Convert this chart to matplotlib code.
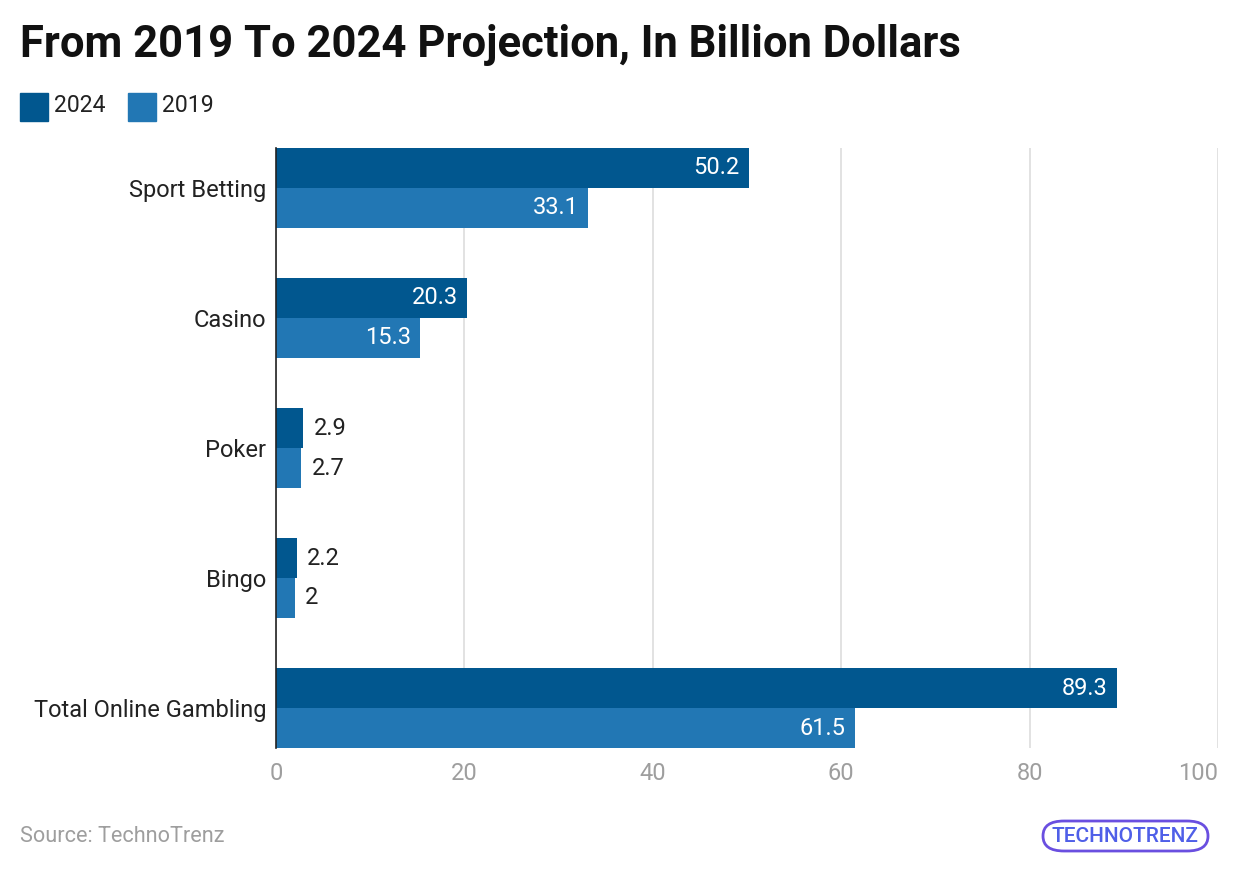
import numpy as np
import matplotlib.pyplot as plt
from matplotlib.patches import FancyBboxPatch

plt.rcParams['font.family'] = ['Roboto', 'DejaVu Sans']

categories = ["Sport Betting", "Casino", "Poker", "Bingo", "Total Online Gambling"]
values_2024 = [50.2, 20.3, 2.9, 2.2, 89.3]
values_2019 = [33.1, 15.3, 2.7, 2.0, 61.5]
labels_2024 = ["50.2", "20.3", "2.9", "2.2", "89.3"]
labels_2019 = ["33.1", "15.3", "2.7", "2", "61.5"]
xticks = [0, 20, 40, 60, 80, 100]

c2024 = "#01578f"
c2019 = "#2277b4"

fig = plt.figure(figsize=(12.4, 8.72), dpi=100)
ax = fig.add_axes([276/1240, 1-748/872, 942/1240, 600/872])

y = np.arange(len(categories))
h = 40/130
ax.barh(y - h/2, values_2024, height=h, color=c2024, zorder=3)
ax.barh(y + h/2, values_2019, height=h, color=c2019, zorder=3)

def put_labels(vals, labs, ys):
    for v, lab, yy in zip(vals, labs, ys):
        if v > 10:
            ax.text(v - 1.0, yy, lab, ha='right', va='center', color='white',
                    fontsize=17, zorder=4)
        else:
            ax.text(v + 1.1, yy, lab, ha='left', va='center', color='#222222',
                    fontsize=17, zorder=4)

put_labels(values_2024, labels_2024, y - h/2)
put_labels(values_2019, labels_2019, y + h/2)

ax.set_xlim(0, 100)
ax.set_ylim(len(categories) - 1 + h, -h)
ax.set_xticks(xticks)
ax.set_xticklabels([str(t) for t in xticks], color='#9e9e9e', fontsize=17)
ax.get_xticklabels()[-1].set_ha('right')
ax.set_yticks(y)
ax.set_yticklabels(categories, fontsize=17, color='#222222')
ax.tick_params(length=0, pad=10)
ax.tick_params(axis='y', pad=7)
ax.grid(axis='x', color='#dddddd', linewidth=1.2, zorder=0)
for s in ['top', 'right', 'bottom']:
    ax.spines[s].set_visible(False)
ax.spines['left'].set_color('#222222')
ax.spines['left'].set_linewidth(1.2)
ax.spines['left'].set_zorder(5)

fig.text(20/1240, 1-45/872, "From 2019 To 2024 Projection, In Billion Dollars",
         fontsize=31.4, fontweight='bold', color='#111111', va='center', ha='left')

# legend
fig.patches.append(plt.Rectangle((20/1240, 1-121/872), 28/1240, 28/872,
                                 transform=fig.transFigure, color=c2024))
fig.text(54/1240, 1-106/872, "2024", fontsize=16.6, color='#222222', va='center')
fig.patches.append(plt.Rectangle((128/1240, 1-121/872), 28/1240, 28/872,
                                 transform=fig.transFigure, color=c2019))
fig.text(162/1240, 1-106/872, "2019", fontsize=16.6, color='#222222', va='center')

fig.text(20/1240, 1-836/872, "Source: TechnoTrenz", fontsize=15.6, color='#9e9e9e', va='center')

# logo
logo = FancyBboxPatch((1043/1240, 1-851/872), 165/1240, 30/872,
                      boxstyle="round,pad=0,rounding_size=0.017",
                      transform=fig.transFigure, fill=False,
                      edgecolor='#6a4fe0', linewidth=2)
fig.patches.append(logo)
fig.text(1125/1240, 1-836/872, "TECHNOTRENZ", fontsize=15, color='#4f5fe8',
         ha='center', va='center', fontweight='medium')

fig.savefig("out.png", dpi=100)
